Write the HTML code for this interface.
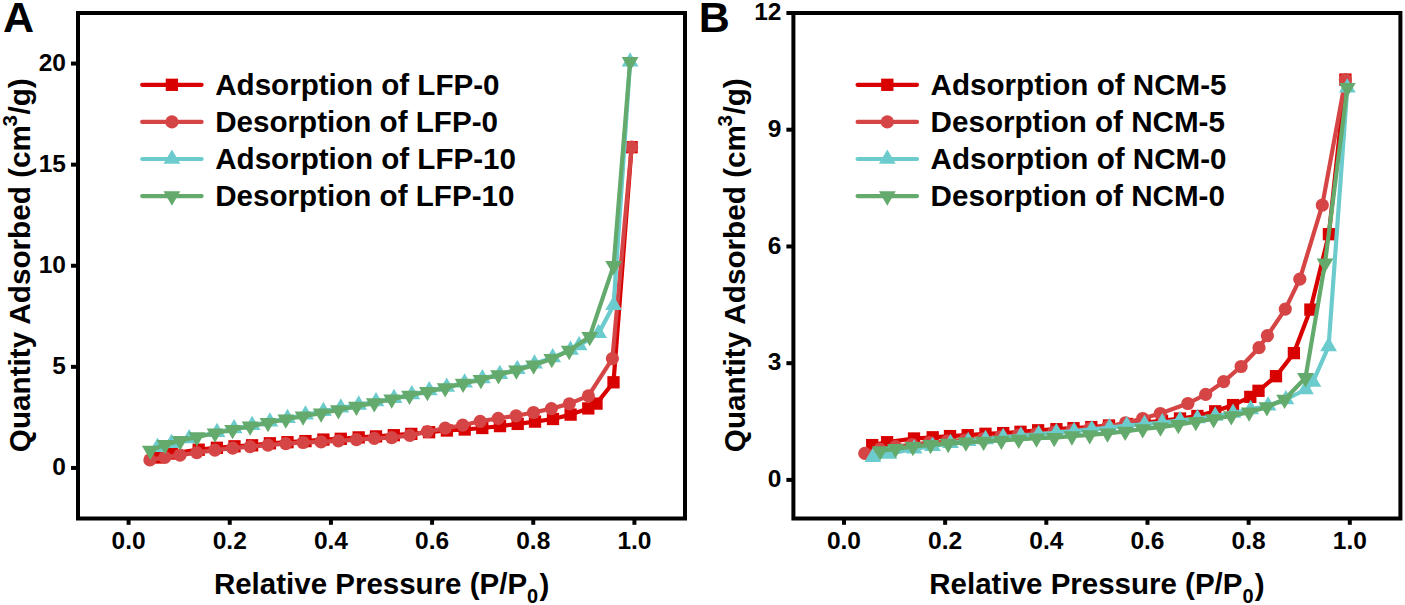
<!DOCTYPE html>
<html><head><meta charset="utf-8"><style>
html,body{margin:0;padding:0;background:#fff;}
svg{display:block;}
text{font-family:"Liberation Sans", sans-serif;font-weight:bold;fill:#000;}
.tk{font-size:24.5px;}
.tx{font-size:29.5px;}
.ty{font-size:29.7px;}
.lg{font-size:29.6px;}
.pl{font-size:43px;}
</style></head><body>
<svg width="1405" height="605" viewBox="0 0 1405 605">
<rect width="1405" height="605" fill="#fff"/>
<clipPath id="ca"><rect x="78" y="13" width="607" height="505.5"/></clipPath>
<g clip-path="url(#ca)">
<path d="M157.00 457.50 L172.00 453.50 L198.70 449.70 L216.90 447.80 L234.50 446.30 L252.10 445.30 L269.90 443.30 L287.50 442.20 L305.50 441.10 L323.40 439.60 L340.80 438.80 L358.70 437.40 L376.00 436.40 L393.80 435.20 L411.30 433.90 L429.10 432.20 L446.90 430.50 L464.70 429.50 L482.30 428.00 L500.00 426.10 L517.70 423.90 L535.00 421.60 L553.00 419.00 L570.60 414.60 L588.30 408.40 L596.50 403.60 L613.50 382.30 L631.60 147.20" fill="none" stroke="#d90000" stroke-width="4.2" stroke-linejoin="round" stroke-linecap="round"/>
<rect x="150.85" y="451.35" width="12.3" height="12.3" fill="#d90000"/>
<rect x="165.85" y="447.35" width="12.3" height="12.3" fill="#d90000"/>
<rect x="192.55" y="443.55" width="12.3" height="12.3" fill="#d90000"/>
<rect x="210.75" y="441.65" width="12.3" height="12.3" fill="#d90000"/>
<rect x="228.35" y="440.15" width="12.3" height="12.3" fill="#d90000"/>
<rect x="245.95" y="439.15" width="12.3" height="12.3" fill="#d90000"/>
<rect x="263.75" y="437.15" width="12.3" height="12.3" fill="#d90000"/>
<rect x="281.35" y="436.05" width="12.3" height="12.3" fill="#d90000"/>
<rect x="299.35" y="434.95" width="12.3" height="12.3" fill="#d90000"/>
<rect x="317.25" y="433.45" width="12.3" height="12.3" fill="#d90000"/>
<rect x="334.65" y="432.65" width="12.3" height="12.3" fill="#d90000"/>
<rect x="352.55" y="431.25" width="12.3" height="12.3" fill="#d90000"/>
<rect x="369.85" y="430.25" width="12.3" height="12.3" fill="#d90000"/>
<rect x="387.65" y="429.05" width="12.3" height="12.3" fill="#d90000"/>
<rect x="405.15" y="427.75" width="12.3" height="12.3" fill="#d90000"/>
<rect x="422.95" y="426.05" width="12.3" height="12.3" fill="#d90000"/>
<rect x="440.75" y="424.35" width="12.3" height="12.3" fill="#d90000"/>
<rect x="458.55" y="423.35" width="12.3" height="12.3" fill="#d90000"/>
<rect x="476.15" y="421.85" width="12.3" height="12.3" fill="#d90000"/>
<rect x="493.85" y="419.95" width="12.3" height="12.3" fill="#d90000"/>
<rect x="511.55" y="417.75" width="12.3" height="12.3" fill="#d90000"/>
<rect x="528.85" y="415.45" width="12.3" height="12.3" fill="#d90000"/>
<rect x="546.85" y="412.85" width="12.3" height="12.3" fill="#d90000"/>
<rect x="564.45" y="408.45" width="12.3" height="12.3" fill="#d90000"/>
<rect x="582.15" y="402.25" width="12.3" height="12.3" fill="#d90000"/>
<rect x="590.35" y="397.45" width="12.3" height="12.3" fill="#d90000"/>
<rect x="607.35" y="376.15" width="12.3" height="12.3" fill="#d90000"/>
<rect x="625.45" y="141.05" width="12.3" height="12.3" fill="#d90000"/>
<path d="M631.60 147.20 L612.40 358.60 L588.40 395.90 L569.30 403.80 L551.40 408.60 L533.50 412.50 L516.10 415.80 L498.20 418.40 L480.20 421.30 L462.70 425.20 L445.20 428.20 L427.30 431.60 L409.80 435.40 L391.70 437.60 L374.30 438.40 L356.40 439.60 L338.40 440.80 L321.10 441.90 L303.10 442.50 L285.80 443.65 L268.00 445.10 L250.10 446.60 L232.70 448.10 L214.90 450.10 L196.80 452.60 L180.00 455.10 L164.80 457.40 L149.90 459.90" fill="none" stroke="#d64545" stroke-width="4.2" stroke-linejoin="round" stroke-linecap="round"/>
<circle cx="631.60" cy="147.20" r="6.6" fill="#d64545"/>
<circle cx="612.40" cy="358.60" r="6.6" fill="#d64545"/>
<circle cx="588.40" cy="395.90" r="6.6" fill="#d64545"/>
<circle cx="569.30" cy="403.80" r="6.6" fill="#d64545"/>
<circle cx="551.40" cy="408.60" r="6.6" fill="#d64545"/>
<circle cx="533.50" cy="412.50" r="6.6" fill="#d64545"/>
<circle cx="516.10" cy="415.80" r="6.6" fill="#d64545"/>
<circle cx="498.20" cy="418.40" r="6.6" fill="#d64545"/>
<circle cx="480.20" cy="421.30" r="6.6" fill="#d64545"/>
<circle cx="462.70" cy="425.20" r="6.6" fill="#d64545"/>
<circle cx="445.20" cy="428.20" r="6.6" fill="#d64545"/>
<circle cx="427.30" cy="431.60" r="6.6" fill="#d64545"/>
<circle cx="409.80" cy="435.40" r="6.6" fill="#d64545"/>
<circle cx="391.70" cy="437.60" r="6.6" fill="#d64545"/>
<circle cx="374.30" cy="438.40" r="6.6" fill="#d64545"/>
<circle cx="356.40" cy="439.60" r="6.6" fill="#d64545"/>
<circle cx="338.40" cy="440.80" r="6.6" fill="#d64545"/>
<circle cx="321.10" cy="441.90" r="6.6" fill="#d64545"/>
<circle cx="303.10" cy="442.50" r="6.6" fill="#d64545"/>
<circle cx="285.80" cy="443.65" r="6.6" fill="#d64545"/>
<circle cx="268.00" cy="445.10" r="6.6" fill="#d64545"/>
<circle cx="250.10" cy="446.60" r="6.6" fill="#d64545"/>
<circle cx="232.70" cy="448.10" r="6.6" fill="#d64545"/>
<circle cx="214.90" cy="450.10" r="6.6" fill="#d64545"/>
<circle cx="196.80" cy="452.60" r="6.6" fill="#d64545"/>
<circle cx="180.00" cy="455.10" r="6.6" fill="#d64545"/>
<circle cx="164.80" cy="457.40" r="6.6" fill="#d64545"/>
<circle cx="149.90" cy="459.90" r="6.6" fill="#d64545"/>
<path d="M157.50 447.30 L171.50 443.20 L189.20 438.50 L217.00 432.30 L234.10 428.60 L252.10 425.20 L269.90 421.70 L287.50 418.20 L305.50 414.80 L323.40 411.30 L340.80 407.80 L358.70 404.90 L376.00 401.50 L394.00 398.20 L411.80 394.50 L429.30 390.50 L446.70 387.10 L464.60 382.80 L482.40 378.60 L499.80 374.30 L517.30 369.30 L534.50 363.80 L552.70 357.50 L570.50 350.10 L579.10 345.50 L598.60 333.20 L613.60 305.20 L630.10 61.80" fill="none" stroke="#6ccbcd" stroke-width="4.2" stroke-linejoin="round" stroke-linecap="round"/>
<path d="M157.50 437.77L165.90 452.07L149.10 452.07Z" fill="#6ccbcd"/>
<path d="M171.50 433.67L179.90 447.97L163.10 447.97Z" fill="#6ccbcd"/>
<path d="M189.20 428.97L197.60 443.27L180.80 443.27Z" fill="#6ccbcd"/>
<path d="M217.00 422.77L225.40 437.07L208.60 437.07Z" fill="#6ccbcd"/>
<path d="M234.10 419.07L242.50 433.37L225.70 433.37Z" fill="#6ccbcd"/>
<path d="M252.10 415.67L260.50 429.97L243.70 429.97Z" fill="#6ccbcd"/>
<path d="M269.90 412.17L278.30 426.47L261.50 426.47Z" fill="#6ccbcd"/>
<path d="M287.50 408.67L295.90 422.97L279.10 422.97Z" fill="#6ccbcd"/>
<path d="M305.50 405.27L313.90 419.57L297.10 419.57Z" fill="#6ccbcd"/>
<path d="M323.40 401.77L331.80 416.07L315.00 416.07Z" fill="#6ccbcd"/>
<path d="M340.80 398.27L349.20 412.57L332.40 412.57Z" fill="#6ccbcd"/>
<path d="M358.70 395.37L367.10 409.67L350.30 409.67Z" fill="#6ccbcd"/>
<path d="M376.00 391.97L384.40 406.27L367.60 406.27Z" fill="#6ccbcd"/>
<path d="M394.00 388.67L402.40 402.97L385.60 402.97Z" fill="#6ccbcd"/>
<path d="M411.80 384.97L420.20 399.27L403.40 399.27Z" fill="#6ccbcd"/>
<path d="M429.30 380.97L437.70 395.27L420.90 395.27Z" fill="#6ccbcd"/>
<path d="M446.70 377.57L455.10 391.87L438.30 391.87Z" fill="#6ccbcd"/>
<path d="M464.60 373.27L473.00 387.57L456.20 387.57Z" fill="#6ccbcd"/>
<path d="M482.40 369.07L490.80 383.37L474.00 383.37Z" fill="#6ccbcd"/>
<path d="M499.80 364.77L508.20 379.07L491.40 379.07Z" fill="#6ccbcd"/>
<path d="M517.30 359.77L525.70 374.07L508.90 374.07Z" fill="#6ccbcd"/>
<path d="M534.50 354.27L542.90 368.57L526.10 368.57Z" fill="#6ccbcd"/>
<path d="M552.70 347.97L561.10 362.27L544.30 362.27Z" fill="#6ccbcd"/>
<path d="M570.50 340.57L578.90 354.87L562.10 354.87Z" fill="#6ccbcd"/>
<path d="M579.10 335.97L587.50 350.27L570.70 350.27Z" fill="#6ccbcd"/>
<path d="M598.60 323.67L607.00 337.97L590.20 337.97Z" fill="#6ccbcd"/>
<path d="M613.60 295.67L622.00 309.97L605.20 309.97Z" fill="#6ccbcd"/>
<path d="M630.10 52.27L638.50 66.57L621.70 66.57Z" fill="#6ccbcd"/>
<path d="M630.10 61.80 L613.60 265.70 L589.70 336.70 L569.20 350.60 L551.80 358.70 L533.60 365.30 L516.40 370.20 L498.50 375.00 L480.90 379.80 L463.10 383.50 L445.20 387.90 L427.40 391.70 L409.50 395.40 L391.70 399.30 L374.30 402.90 L356.40 406.40 L338.40 409.90 L321.10 413.30 L303.10 416.20 L285.80 419.30 L268.00 422.80 L250.10 426.30 L232.60 429.70 L215.00 433.20 L196.90 437.00 L180.30 440.80 L165.10 444.80 L150.30 450.40" fill="none" stroke="#63aa6c" stroke-width="4.2" stroke-linejoin="round" stroke-linecap="round"/>
<path d="M630.10 71.33L638.50 57.03L621.70 57.03Z" fill="#63aa6c"/>
<path d="M613.60 275.23L622.00 260.93L605.20 260.93Z" fill="#63aa6c"/>
<path d="M589.70 346.23L598.10 331.93L581.30 331.93Z" fill="#63aa6c"/>
<path d="M569.20 360.13L577.60 345.83L560.80 345.83Z" fill="#63aa6c"/>
<path d="M551.80 368.23L560.20 353.93L543.40 353.93Z" fill="#63aa6c"/>
<path d="M533.60 374.83L542.00 360.53L525.20 360.53Z" fill="#63aa6c"/>
<path d="M516.40 379.73L524.80 365.43L508.00 365.43Z" fill="#63aa6c"/>
<path d="M498.50 384.53L506.90 370.23L490.10 370.23Z" fill="#63aa6c"/>
<path d="M480.90 389.33L489.30 375.03L472.50 375.03Z" fill="#63aa6c"/>
<path d="M463.10 393.03L471.50 378.73L454.70 378.73Z" fill="#63aa6c"/>
<path d="M445.20 397.43L453.60 383.13L436.80 383.13Z" fill="#63aa6c"/>
<path d="M427.40 401.23L435.80 386.93L419.00 386.93Z" fill="#63aa6c"/>
<path d="M409.50 404.93L417.90 390.63L401.10 390.63Z" fill="#63aa6c"/>
<path d="M391.70 408.83L400.10 394.53L383.30 394.53Z" fill="#63aa6c"/>
<path d="M374.30 412.43L382.70 398.13L365.90 398.13Z" fill="#63aa6c"/>
<path d="M356.40 415.93L364.80 401.63L348.00 401.63Z" fill="#63aa6c"/>
<path d="M338.40 419.43L346.80 405.13L330.00 405.13Z" fill="#63aa6c"/>
<path d="M321.10 422.83L329.50 408.53L312.70 408.53Z" fill="#63aa6c"/>
<path d="M303.10 425.73L311.50 411.43L294.70 411.43Z" fill="#63aa6c"/>
<path d="M285.80 428.83L294.20 414.53L277.40 414.53Z" fill="#63aa6c"/>
<path d="M268.00 432.33L276.40 418.03L259.60 418.03Z" fill="#63aa6c"/>
<path d="M250.10 435.83L258.50 421.53L241.70 421.53Z" fill="#63aa6c"/>
<path d="M232.60 439.23L241.00 424.93L224.20 424.93Z" fill="#63aa6c"/>
<path d="M215.00 442.73L223.40 428.43L206.60 428.43Z" fill="#63aa6c"/>
<path d="M196.90 446.53L205.30 432.23L188.50 432.23Z" fill="#63aa6c"/>
<path d="M180.30 450.33L188.70 436.03L171.90 436.03Z" fill="#63aa6c"/>
<path d="M165.10 454.33L173.50 440.03L156.70 440.03Z" fill="#63aa6c"/>
<path d="M150.30 459.93L158.70 445.63L141.90 445.63Z" fill="#63aa6c"/>
</g>
<rect x="78" y="13" width="607" height="505.5" fill="none" stroke="#000" stroke-width="4" stroke-linejoin="miter"/>
<line x1="128.58" y1="518.5" x2="128.58" y2="524.8" stroke="#000" stroke-width="4"/>
<text x="128.58" y="549" text-anchor="middle" class="tk">0.0</text>
<line x1="229.75" y1="518.5" x2="229.75" y2="524.8" stroke="#000" stroke-width="4"/>
<text x="229.75" y="549" text-anchor="middle" class="tk">0.2</text>
<line x1="330.92" y1="518.5" x2="330.92" y2="524.8" stroke="#000" stroke-width="4"/>
<text x="330.92" y="549" text-anchor="middle" class="tk">0.4</text>
<line x1="432.08" y1="518.5" x2="432.08" y2="524.8" stroke="#000" stroke-width="4"/>
<text x="432.08" y="549" text-anchor="middle" class="tk">0.6</text>
<line x1="533.25" y1="518.5" x2="533.25" y2="524.8" stroke="#000" stroke-width="4"/>
<text x="533.25" y="549" text-anchor="middle" class="tk">0.8</text>
<line x1="634.42" y1="518.5" x2="634.42" y2="524.8" stroke="#000" stroke-width="4"/>
<text x="634.42" y="549" text-anchor="middle" class="tk">1.0</text>
<line x1="71" y1="467.95" x2="78" y2="467.95" stroke="#000" stroke-width="4"/>
<text x="66" y="475.25" text-anchor="end" class="tk">0</text>
<line x1="71" y1="366.85" x2="78" y2="366.85" stroke="#000" stroke-width="4"/>
<text x="66" y="374.15" text-anchor="end" class="tk">5</text>
<line x1="71" y1="265.75" x2="78" y2="265.75" stroke="#000" stroke-width="4"/>
<text x="66" y="273.05" text-anchor="end" class="tk">10</text>
<line x1="71" y1="164.65" x2="78" y2="164.65" stroke="#000" stroke-width="4"/>
<text x="66" y="171.95" text-anchor="end" class="tk">15</text>
<line x1="71" y1="63.55" x2="78" y2="63.55" stroke="#000" stroke-width="4"/>
<text x="66" y="70.85" text-anchor="end" class="tk">20</text>
<text x="213.90" y="594.2" class="tx">Relative Pressure (P/P<tspan font-size="20" dy="8.8">0</tspan><tspan dx="1.2" dy="-7.9">)</tspan></text>
<text transform="translate(29.50 452.2) rotate(-90)" x="0" y="0" class="ty">Quantity Adsorbed (cm<tspan font-size="20.5" dx="-1.5" dy="-13">3</tspan><tspan dx="0.6" dy="13">/g)</tspan></text>
<text x="3.00" y="32.3" class="pl">A</text>
<line x1="142.20" y1="84.80" x2="201.60" y2="84.80" stroke="#d90000" stroke-width="4.2" stroke-linecap="round"/>
<rect x="165.75" y="78.65" width="12.3" height="12.3" fill="#d90000"/>
<text x="215.20" y="94.70" class="lg">Adsorption of LFP-0</text>
<line x1="142.20" y1="121.90" x2="201.60" y2="121.90" stroke="#d64545" stroke-width="4.2" stroke-linecap="round"/>
<circle cx="171.90" cy="121.90" r="6.6" fill="#d64545"/>
<text x="215.20" y="131.80" class="lg">Desorption of LFP-0</text>
<line x1="142.20" y1="159.00" x2="201.60" y2="159.00" stroke="#6ccbcd" stroke-width="4.2" stroke-linecap="round"/>
<path d="M171.90 149.47L180.30 163.77L163.50 163.77Z" fill="#6ccbcd"/>
<text x="215.20" y="168.90" class="lg">Adsorption of LFP-10</text>
<line x1="142.20" y1="196.10" x2="201.60" y2="196.10" stroke="#63aa6c" stroke-width="4.2" stroke-linecap="round"/>
<path d="M171.90 205.63L180.30 191.33L163.50 191.33Z" fill="#63aa6c"/>
<text x="215.20" y="206.00" class="lg">Desorption of LFP-10</text>
<clipPath id="cb"><rect x="793.4" y="13" width="607.0000000000001" height="505.5"/></clipPath>
<g clip-path="url(#cb)">
<path d="M872.20 445.10 L887.10 442.20 L914.00 438.50 L932.70 437.30 L950.00 436.10 L967.70 435.20 L985.50 433.80 L1003.20 433.10 L1020.50 431.80 L1038.10 430.30 L1056.40 429.20 L1073.50 428.20 L1091.30 427.10 L1109.00 425.50 L1127.00 424.00 L1144.50 422.50 L1162.00 420.80 L1180.00 418.50 L1197.40 416.00 L1215.20 411.30 L1233.00 405.10 L1250.30 396.90 L1258.50 390.80 L1276.00 376.20 L1293.90 353.10 L1310.40 309.60 L1328.90 234.20 L1345.40 79.60" fill="none" stroke="#d90000" stroke-width="4.2" stroke-linejoin="round" stroke-linecap="round"/>
<rect x="866.05" y="438.95" width="12.3" height="12.3" fill="#d90000"/>
<rect x="880.95" y="436.05" width="12.3" height="12.3" fill="#d90000"/>
<rect x="907.85" y="432.35" width="12.3" height="12.3" fill="#d90000"/>
<rect x="926.55" y="431.15" width="12.3" height="12.3" fill="#d90000"/>
<rect x="943.85" y="429.95" width="12.3" height="12.3" fill="#d90000"/>
<rect x="961.55" y="429.05" width="12.3" height="12.3" fill="#d90000"/>
<rect x="979.35" y="427.65" width="12.3" height="12.3" fill="#d90000"/>
<rect x="997.05" y="426.95" width="12.3" height="12.3" fill="#d90000"/>
<rect x="1014.35" y="425.65" width="12.3" height="12.3" fill="#d90000"/>
<rect x="1031.95" y="424.15" width="12.3" height="12.3" fill="#d90000"/>
<rect x="1050.25" y="423.05" width="12.3" height="12.3" fill="#d90000"/>
<rect x="1067.35" y="422.05" width="12.3" height="12.3" fill="#d90000"/>
<rect x="1085.15" y="420.95" width="12.3" height="12.3" fill="#d90000"/>
<rect x="1102.85" y="419.35" width="12.3" height="12.3" fill="#d90000"/>
<rect x="1120.85" y="417.85" width="12.3" height="12.3" fill="#d90000"/>
<rect x="1138.35" y="416.35" width="12.3" height="12.3" fill="#d90000"/>
<rect x="1155.85" y="414.65" width="12.3" height="12.3" fill="#d90000"/>
<rect x="1173.85" y="412.35" width="12.3" height="12.3" fill="#d90000"/>
<rect x="1191.25" y="409.85" width="12.3" height="12.3" fill="#d90000"/>
<rect x="1209.05" y="405.15" width="12.3" height="12.3" fill="#d90000"/>
<rect x="1226.85" y="398.95" width="12.3" height="12.3" fill="#d90000"/>
<rect x="1244.15" y="390.75" width="12.3" height="12.3" fill="#d90000"/>
<rect x="1252.35" y="384.65" width="12.3" height="12.3" fill="#d90000"/>
<rect x="1269.85" y="370.05" width="12.3" height="12.3" fill="#d90000"/>
<rect x="1287.75" y="346.95" width="12.3" height="12.3" fill="#d90000"/>
<rect x="1304.25" y="303.45" width="12.3" height="12.3" fill="#d90000"/>
<rect x="1322.75" y="228.05" width="12.3" height="12.3" fill="#d90000"/>
<rect x="1339.25" y="73.45" width="12.3" height="12.3" fill="#d90000"/>
<path d="M1345.40 79.60 L1322.30 205.10 L1299.80 279.20 L1285.30 309.10 L1267.40 335.70 L1259.00 347.70 L1241.10 366.50 L1223.60 381.70 L1205.70 394.30 L1187.90 403.50 L1160.30 413.50 L1142.70 418.50 L1125.50 422.80 L1107.50 426.80 L1089.60 428.60 L1071.80 430.40 L1054.00 432.00 L1036.20 433.80 L1018.40 435.20 L1000.60 436.80 L982.80 438.80 L965.00 440.00 L947.20 441.20 L929.40 442.50 L912.00 444.50 L895.50 446.60 L879.80 449.10 L864.80 453.30" fill="none" stroke="#d64545" stroke-width="4.2" stroke-linejoin="round" stroke-linecap="round"/>
<circle cx="1345.40" cy="79.60" r="6.6" fill="#d64545"/>
<circle cx="1322.30" cy="205.10" r="6.6" fill="#d64545"/>
<circle cx="1299.80" cy="279.20" r="6.6" fill="#d64545"/>
<circle cx="1285.30" cy="309.10" r="6.6" fill="#d64545"/>
<circle cx="1267.40" cy="335.70" r="6.6" fill="#d64545"/>
<circle cx="1259.00" cy="347.70" r="6.6" fill="#d64545"/>
<circle cx="1241.10" cy="366.50" r="6.6" fill="#d64545"/>
<circle cx="1223.60" cy="381.70" r="6.6" fill="#d64545"/>
<circle cx="1205.70" cy="394.30" r="6.6" fill="#d64545"/>
<circle cx="1187.90" cy="403.50" r="6.6" fill="#d64545"/>
<circle cx="1160.30" cy="413.50" r="6.6" fill="#d64545"/>
<circle cx="1142.70" cy="418.50" r="6.6" fill="#d64545"/>
<circle cx="1125.50" cy="422.80" r="6.6" fill="#d64545"/>
<circle cx="1107.50" cy="426.80" r="6.6" fill="#d64545"/>
<circle cx="1089.60" cy="428.60" r="6.6" fill="#d64545"/>
<circle cx="1071.80" cy="430.40" r="6.6" fill="#d64545"/>
<circle cx="1054.00" cy="432.00" r="6.6" fill="#d64545"/>
<circle cx="1036.20" cy="433.80" r="6.6" fill="#d64545"/>
<circle cx="1018.40" cy="435.20" r="6.6" fill="#d64545"/>
<circle cx="1000.60" cy="436.80" r="6.6" fill="#d64545"/>
<circle cx="982.80" cy="438.80" r="6.6" fill="#d64545"/>
<circle cx="965.00" cy="440.00" r="6.6" fill="#d64545"/>
<circle cx="947.20" cy="441.20" r="6.6" fill="#d64545"/>
<circle cx="929.40" cy="442.50" r="6.6" fill="#d64545"/>
<circle cx="912.00" cy="444.50" r="6.6" fill="#d64545"/>
<circle cx="895.50" cy="446.60" r="6.6" fill="#d64545"/>
<circle cx="879.80" cy="449.10" r="6.6" fill="#d64545"/>
<circle cx="864.80" cy="453.30" r="6.6" fill="#d64545"/>
<path d="M872.80 457.20 L888.90 453.90 L914.10 448.80 L932.50 446.20 L950.50 443.20 L968.20 441.20 L985.50 439.40 L1003.20 437.30 L1020.90 435.90 L1038.60 434.40 L1056.40 432.60 L1074.10 431.20 L1091.80 429.50 L1109.50 427.60 L1126.80 425.50 L1144.50 424.20 L1162.30 422.60 L1180.00 420.30 L1197.40 418.50 L1215.20 416.00 L1233.00 413.10 L1250.70 409.40 L1268.10 405.70 L1285.90 399.50 L1305.50 389.50 L1312.90 382.00 L1328.60 346.40 L1347.30 87.70" fill="none" stroke="#6ccbcd" stroke-width="4.2" stroke-linejoin="round" stroke-linecap="round"/>
<path d="M872.80 447.67L881.20 461.97L864.40 461.97Z" fill="#6ccbcd"/>
<path d="M888.90 444.37L897.30 458.67L880.50 458.67Z" fill="#6ccbcd"/>
<path d="M914.10 439.27L922.50 453.57L905.70 453.57Z" fill="#6ccbcd"/>
<path d="M932.50 436.67L940.90 450.97L924.10 450.97Z" fill="#6ccbcd"/>
<path d="M950.50 433.67L958.90 447.97L942.10 447.97Z" fill="#6ccbcd"/>
<path d="M968.20 431.67L976.60 445.97L959.80 445.97Z" fill="#6ccbcd"/>
<path d="M985.50 429.87L993.90 444.17L977.10 444.17Z" fill="#6ccbcd"/>
<path d="M1003.20 427.77L1011.60 442.07L994.80 442.07Z" fill="#6ccbcd"/>
<path d="M1020.90 426.37L1029.30 440.67L1012.50 440.67Z" fill="#6ccbcd"/>
<path d="M1038.60 424.87L1047.00 439.17L1030.20 439.17Z" fill="#6ccbcd"/>
<path d="M1056.40 423.07L1064.80 437.37L1048.00 437.37Z" fill="#6ccbcd"/>
<path d="M1074.10 421.67L1082.50 435.97L1065.70 435.97Z" fill="#6ccbcd"/>
<path d="M1091.80 419.97L1100.20 434.27L1083.40 434.27Z" fill="#6ccbcd"/>
<path d="M1109.50 418.07L1117.90 432.37L1101.10 432.37Z" fill="#6ccbcd"/>
<path d="M1126.80 415.97L1135.20 430.27L1118.40 430.27Z" fill="#6ccbcd"/>
<path d="M1144.50 414.67L1152.90 428.97L1136.10 428.97Z" fill="#6ccbcd"/>
<path d="M1162.30 413.07L1170.70 427.37L1153.90 427.37Z" fill="#6ccbcd"/>
<path d="M1180.00 410.77L1188.40 425.07L1171.60 425.07Z" fill="#6ccbcd"/>
<path d="M1197.40 408.97L1205.80 423.27L1189.00 423.27Z" fill="#6ccbcd"/>
<path d="M1215.20 406.47L1223.60 420.77L1206.80 420.77Z" fill="#6ccbcd"/>
<path d="M1233.00 403.57L1241.40 417.87L1224.60 417.87Z" fill="#6ccbcd"/>
<path d="M1250.70 399.87L1259.10 414.17L1242.30 414.17Z" fill="#6ccbcd"/>
<path d="M1268.10 396.17L1276.50 410.47L1259.70 410.47Z" fill="#6ccbcd"/>
<path d="M1285.90 389.97L1294.30 404.27L1277.50 404.27Z" fill="#6ccbcd"/>
<path d="M1305.50 379.97L1313.90 394.27L1297.10 394.27Z" fill="#6ccbcd"/>
<path d="M1312.90 372.47L1321.30 386.77L1304.50 386.77Z" fill="#6ccbcd"/>
<path d="M1328.60 336.87L1337.00 351.17L1320.20 351.17Z" fill="#6ccbcd"/>
<path d="M1347.30 78.17L1355.70 92.47L1338.90 92.47Z" fill="#6ccbcd"/>
<path d="M1347.30 87.70 L1325.00 263.30 L1305.50 377.70 L1284.60 399.50 L1266.90 406.90 L1249.10 412.30 L1231.30 416.00 L1213.60 418.90 L1195.80 421.80 L1178.30 424.70 L1160.50 427.20 L1142.70 429.00 L1125.20 431.50 L1107.50 433.30 L1089.70 435.00 L1071.90 436.10 L1054.20 437.70 L1036.50 438.20 L1018.70 439.40 L1001.40 440.40 L983.60 441.40 L965.90 442.30 L948.20 443.60 L930.60 444.80 L912.90 446.70 L895.50 448.80 L880.20 450.90" fill="none" stroke="#63aa6c" stroke-width="4.2" stroke-linejoin="round" stroke-linecap="round"/>
<path d="M1347.30 97.23L1355.70 82.93L1338.90 82.93Z" fill="#63aa6c"/>
<path d="M1325.00 272.83L1333.40 258.53L1316.60 258.53Z" fill="#63aa6c"/>
<path d="M1305.50 387.23L1313.90 372.93L1297.10 372.93Z" fill="#63aa6c"/>
<path d="M1284.60 409.03L1293.00 394.73L1276.20 394.73Z" fill="#63aa6c"/>
<path d="M1266.90 416.43L1275.30 402.13L1258.50 402.13Z" fill="#63aa6c"/>
<path d="M1249.10 421.83L1257.50 407.53L1240.70 407.53Z" fill="#63aa6c"/>
<path d="M1231.30 425.53L1239.70 411.23L1222.90 411.23Z" fill="#63aa6c"/>
<path d="M1213.60 428.43L1222.00 414.13L1205.20 414.13Z" fill="#63aa6c"/>
<path d="M1195.80 431.33L1204.20 417.03L1187.40 417.03Z" fill="#63aa6c"/>
<path d="M1178.30 434.23L1186.70 419.93L1169.90 419.93Z" fill="#63aa6c"/>
<path d="M1160.50 436.73L1168.90 422.43L1152.10 422.43Z" fill="#63aa6c"/>
<path d="M1142.70 438.53L1151.10 424.23L1134.30 424.23Z" fill="#63aa6c"/>
<path d="M1125.20 441.03L1133.60 426.73L1116.80 426.73Z" fill="#63aa6c"/>
<path d="M1107.50 442.83L1115.90 428.53L1099.10 428.53Z" fill="#63aa6c"/>
<path d="M1089.70 444.53L1098.10 430.23L1081.30 430.23Z" fill="#63aa6c"/>
<path d="M1071.90 445.63L1080.30 431.33L1063.50 431.33Z" fill="#63aa6c"/>
<path d="M1054.20 447.23L1062.60 432.93L1045.80 432.93Z" fill="#63aa6c"/>
<path d="M1036.50 447.73L1044.90 433.43L1028.10 433.43Z" fill="#63aa6c"/>
<path d="M1018.70 448.93L1027.10 434.63L1010.30 434.63Z" fill="#63aa6c"/>
<path d="M1001.40 449.93L1009.80 435.63L993.00 435.63Z" fill="#63aa6c"/>
<path d="M983.60 450.93L992.00 436.63L975.20 436.63Z" fill="#63aa6c"/>
<path d="M965.90 451.83L974.30 437.53L957.50 437.53Z" fill="#63aa6c"/>
<path d="M948.20 453.13L956.60 438.83L939.80 438.83Z" fill="#63aa6c"/>
<path d="M930.60 454.33L939.00 440.03L922.20 440.03Z" fill="#63aa6c"/>
<path d="M912.90 456.23L921.30 441.93L904.50 441.93Z" fill="#63aa6c"/>
<path d="M895.50 458.33L903.90 444.03L887.10 444.03Z" fill="#63aa6c"/>
<path d="M880.20 460.43L888.60 446.13L871.80 446.13Z" fill="#63aa6c"/>
</g>
<rect x="793.4" y="13" width="607.0000000000001" height="505.5" fill="none" stroke="#000" stroke-width="4" stroke-linejoin="miter"/>
<line x1="843.98" y1="518.5" x2="843.98" y2="524.8" stroke="#000" stroke-width="4"/>
<text x="843.98" y="549" text-anchor="middle" class="tk">0.0</text>
<line x1="945.15" y1="518.5" x2="945.15" y2="524.8" stroke="#000" stroke-width="4"/>
<text x="945.15" y="549" text-anchor="middle" class="tk">0.2</text>
<line x1="1046.32" y1="518.5" x2="1046.32" y2="524.8" stroke="#000" stroke-width="4"/>
<text x="1046.32" y="549" text-anchor="middle" class="tk">0.4</text>
<line x1="1147.48" y1="518.5" x2="1147.48" y2="524.8" stroke="#000" stroke-width="4"/>
<text x="1147.48" y="549" text-anchor="middle" class="tk">0.6</text>
<line x1="1248.65" y1="518.5" x2="1248.65" y2="524.8" stroke="#000" stroke-width="4"/>
<text x="1248.65" y="549" text-anchor="middle" class="tk">0.8</text>
<line x1="1349.82" y1="518.5" x2="1349.82" y2="524.8" stroke="#000" stroke-width="4"/>
<text x="1349.82" y="549" text-anchor="middle" class="tk">1.0</text>
<line x1="786.4" y1="479.90" x2="793.4" y2="479.90" stroke="#000" stroke-width="4"/>
<text x="781.4" y="487.20" text-anchor="end" class="tk">0</text>
<line x1="786.4" y1="363.17" x2="793.4" y2="363.17" stroke="#000" stroke-width="4"/>
<text x="781.4" y="370.47" text-anchor="end" class="tk">3</text>
<line x1="786.4" y1="246.44" x2="793.4" y2="246.44" stroke="#000" stroke-width="4"/>
<text x="781.4" y="253.74" text-anchor="end" class="tk">6</text>
<line x1="786.4" y1="129.71" x2="793.4" y2="129.71" stroke="#000" stroke-width="4"/>
<text x="781.4" y="137.01" text-anchor="end" class="tk">9</text>
<line x1="786.4" y1="12.98" x2="793.4" y2="12.98" stroke="#000" stroke-width="4"/>
<text x="781.4" y="20.28" text-anchor="end" class="tk">12</text>
<text x="929.30" y="594.2" class="tx">Relative Pressure (P/P<tspan font-size="20" dy="8.8">0</tspan><tspan dx="1.2" dy="-7.9">)</tspan></text>
<text transform="translate(744.90 452.2) rotate(-90)" x="0" y="0" class="ty">Quantity Adsorbed (cm<tspan font-size="20.5" dx="-1.5" dy="-13">3</tspan><tspan dx="0.6" dy="13">/g)</tspan></text>
<text x="698.70" y="32.3" class="pl">B</text>
<line x1="857.60" y1="84.80" x2="917.00" y2="84.80" stroke="#d90000" stroke-width="4.2" stroke-linecap="round"/>
<rect x="881.15" y="78.65" width="12.3" height="12.3" fill="#d90000"/>
<text x="930.60" y="94.70" class="lg">Adsorption of NCM-5</text>
<line x1="857.60" y1="121.90" x2="917.00" y2="121.90" stroke="#d64545" stroke-width="4.2" stroke-linecap="round"/>
<circle cx="887.30" cy="121.90" r="6.6" fill="#d64545"/>
<text x="930.60" y="131.80" class="lg">Desorption of NCM-5</text>
<line x1="857.60" y1="159.00" x2="917.00" y2="159.00" stroke="#6ccbcd" stroke-width="4.2" stroke-linecap="round"/>
<path d="M887.30 149.47L895.70 163.77L878.90 163.77Z" fill="#6ccbcd"/>
<text x="930.60" y="168.90" class="lg">Adsorption of NCM-0</text>
<line x1="857.60" y1="196.10" x2="917.00" y2="196.10" stroke="#63aa6c" stroke-width="4.2" stroke-linecap="round"/>
<path d="M887.30 205.63L895.70 191.33L878.90 191.33Z" fill="#63aa6c"/>
<text x="930.60" y="206.00" class="lg">Desorption of NCM-0</text>
</svg>
</body></html>
